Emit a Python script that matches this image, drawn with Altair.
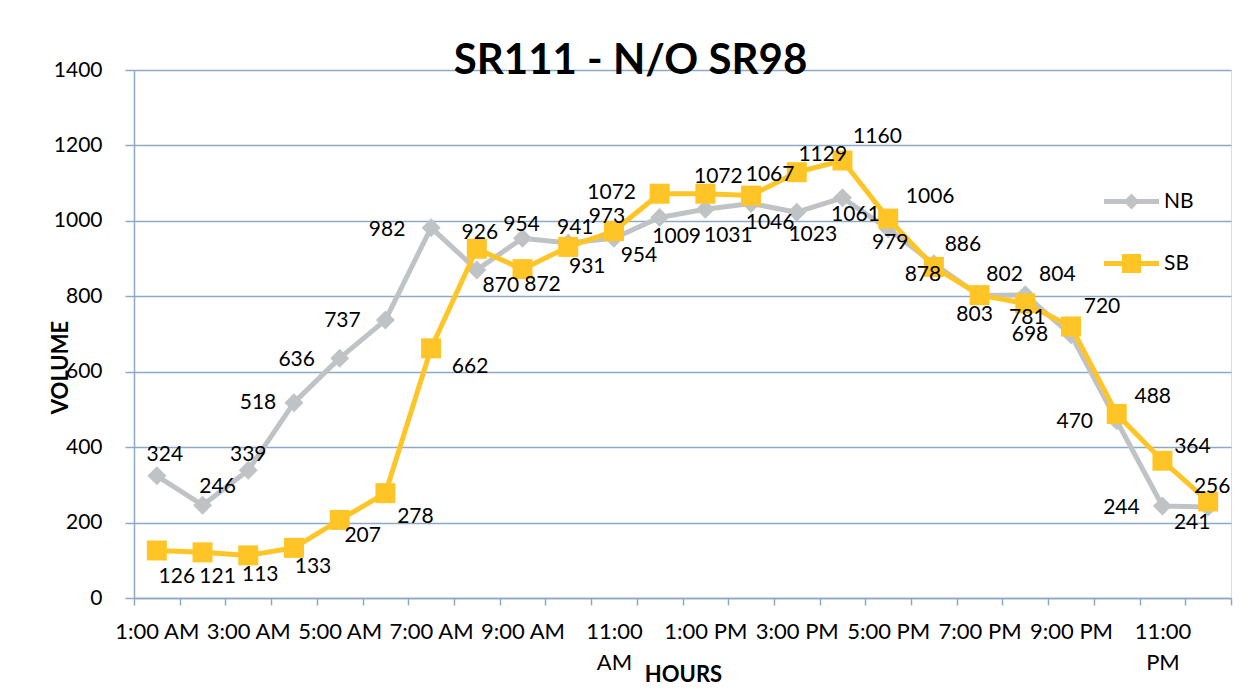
import altair as alt
import pandas as pd

HOURS = ["1:00 AM", "2:00 AM", "3:00 AM", "4:00 AM", "5:00 AM", "6:00 AM",
         "7:00 AM", "8:00 AM", "9:00 AM", "10:00 AM", "11:00 AM", "12:00 PM",
         "1:00 PM", "2:00 PM", "3:00 PM", "4:00 PM", "5:00 PM", "6:00 PM",
         "7:00 PM", "8:00 PM", "9:00 PM", "10:00 PM", "11:00 PM", "12:00 AM "]
SHOWN = ["1:00 AM", "3:00 AM", "5:00 AM", "7:00 AM", "9:00 AM", "11:00 AM",
         "1:00 PM", "3:00 PM", "5:00 PM", "7:00 PM", "9:00 PM", "11:00 PM"]

NB = [324, 246, 339, 518, 636, 737, 982, 870, 954, 941, 954, 1009,
      1031, 1046, 1023, 1061, 979, 886, 802, 804, 698, 470, 244, 241]
SB = [126, 121, 113, 133, 207, 278, 662, 926, 872, 931, 973, 1072,
      1072, 1067, 1129, 1160, 1006, 878, 803, 781, 720, 488, 364, 256]

# data-label placement (pixel offsets from each point)
NB_DX = [8, 15, 0, -36, -43, -43, -44, 24, -1, 7, 25, 17, 23, 19, 16, 13, 2, 29, 25, 32, -41, -42, -41, -16]
NB_DY = [-21, -18, -15, 0, 2, 1, 2, 16, -13, -15, 18, 20, 27, 19, 23, 17, 14, -19, -21, -20, 0, 1, 2, 16]
SB_DX = [20, 15, 12, 19, 23, 30, 39, 3, 20, 19, -7, -48, 13, 19, 26, 35, 42, -11, -5, 2, 31, 36, 30, 4]
SB_DY = [27, 25, 20, 19, 16, 24, 19, -16, 16, 20, -14, -1, -17, -21, -17, -24, -22, 8, 20, 15, -19, -17, -14, -14]

GREY = "#BFC3C6"
YELLOW = "#FFC526"
AXIS_COL = "#8DA9C4"
FONT = "Lato"

rows = []
for s, vals, dxs, dys in [("NB", NB, NB_DX, NB_DY), ("SB", SB, SB_DX, SB_DY)]:
    for h, v, dx, dy in zip(HOURS, vals, dxs, dys):
        rows.append({"hour": h, "series": s, "value": v, "ldx": dx, "ldy": dy})
df = pd.DataFrame(rows)

shown_js = "[" + ",".join("'" + s + "'" for s in SHOWN) + "]"
label_expr = ("datum.label == '11:00 AM' ? ['11:00','AM'] : "
              "datum.label == '11:00 PM' ? ['11:00','PM'] : "
              "indexof(" + shown_js + ", datum.label) >= 0 ? datum.label : ''")

x_enc = alt.X("hour:N", sort=HOURS,
              scale=alt.Scale(type="band", paddingInner=0, paddingOuter=0),
              axis=alt.Axis(title="HOURS", tickBand="extent", labelExpr=label_expr,
                            labelAngle=0, labelOverlap=False, labelFontSize=22,
                            labelFont=FONT, labelColor="#000000", labelPadding=16,
                            labelLineHeight=31, labelBaseline="top",
                            tickSize=7, tickColor=AXIS_COL, domainColor=AXIS_COL,
                            domainWidth=1.5, tickWidth=1.5, grid=False,
                            titleFont=FONT, titleFontSize=22, titleFontWeight="bold",
                            titleColor="#000000", titleX=549, titleY=76,
                            titleBaseline="middle"))
y_enc = alt.Y("value:Q", scale=alt.Scale(domain=[0, 1400], nice=False),
              axis=alt.Axis(title="VOLUME", values=list(range(0, 1401, 200)),
                            format="d",
                            labelFontSize=21, labelFont=FONT, labelColor="#000000",
                            labelPadding=23, tickSize=9, tickColor=AXIS_COL,
                            domainColor=AXIS_COL, gridColor=AXIS_COL,
                            domainWidth=1.5, tickWidth=1.5, gridWidth=1.5,
                            titleFont=FONT, titleFontSize=22, titleFontWeight="bold",
                            titleColor="#000000", titleX=-74, titleY=297,
                            titleAngle=-90, titleBaseline="middle"))

base = alt.Chart(df)
layers = []
for s, col, shape, size in [("NB", GREY, "diamond", 361), ("SB", YELLOW, "square", 400)]:
    sub = base.transform_filter(alt.datum.series == s)
    layers.append(sub.mark_line(color=col, strokeWidth=5, strokeJoin="round", strokeCap="round")
                  .encode(x=x_enc, y=y_enc))
    layers.append(sub.mark_point(color=col, shape=shape, size=size, filled=True, opacity=1)
                  .encode(x=x_enc, y=y_enc))

NB_PATH = ("M-2.75,-0.25L-0.55,-0.25L0,-0.8L0.55,-0.25L2.75,-0.25L2.75,0.25"
           "L0.55,0.25L0,0.8L-0.55,0.25L-2.75,0.25Z")
SB_PATH = ("M-2.75,-0.25L-0.95,-0.25L-0.95,-0.95L0.95,-0.95L0.95,-0.25L2.75,-0.25"
           "L2.75,0.25L0.95,0.25L0.95,0.95L-0.95,0.95L-0.95,0.25L-2.75,0.25Z")

legend = alt.Legend(orient="none", legendX=987, legendY=121, padding=0,
                    rowPadding=40, labelFont=FONT, labelFontSize=21,
                    labelColor="#000000", labelOffset=22, symbolSize=400,
                    symbolOpacity=1, symbolStrokeWidth=0)
legend_layer = base.mark_point(filled=True, opacity=0).encode(
    x=x_enc, y=y_enc,
    color=alt.Color("series:N", title=None,
                    scale=alt.Scale(domain=["NB", "SB"], range=[GREY, YELLOW]),
                    legend=legend),
    shape=alt.Shape("series:N", title=None,
                    scale=alt.Scale(domain=["NB", "SB"], range=[NB_PATH, SB_PATH]),
                    legend=legend),
)
layers.append(legend_layer)

labels = base.mark_text(font=FONT, fontSize=21, color="#000000",
                        align="center", baseline="middle",
                        dx=alt.expr("datum.ldx"), dy=alt.expr("datum.ldy")).encode(
    x=x_enc, y=y_enc,
    text=alt.Text("value:Q"),
)
layers.append(labels)

chart = alt.layer(*layers).properties(
    width=1097, height=528,
    title=alt.TitleParams("SR111 - N/O SR98", font=FONT, fontSize=42,
                          fontWeight="bold", color="#000000", anchor="middle",
                          dx=-52, offset=0, dy=57, baseline="alphabetic"),
    autosize=alt.AutoSizeParams(type="none"),
    padding={"left": 126, "top": 62, "right": 10, "bottom": 92},
).configure_view(strokeWidth=0).configure(background="#FFFFFF")

chart.save("out.html", embed_options={"renderer": "svg", "actions": False})
